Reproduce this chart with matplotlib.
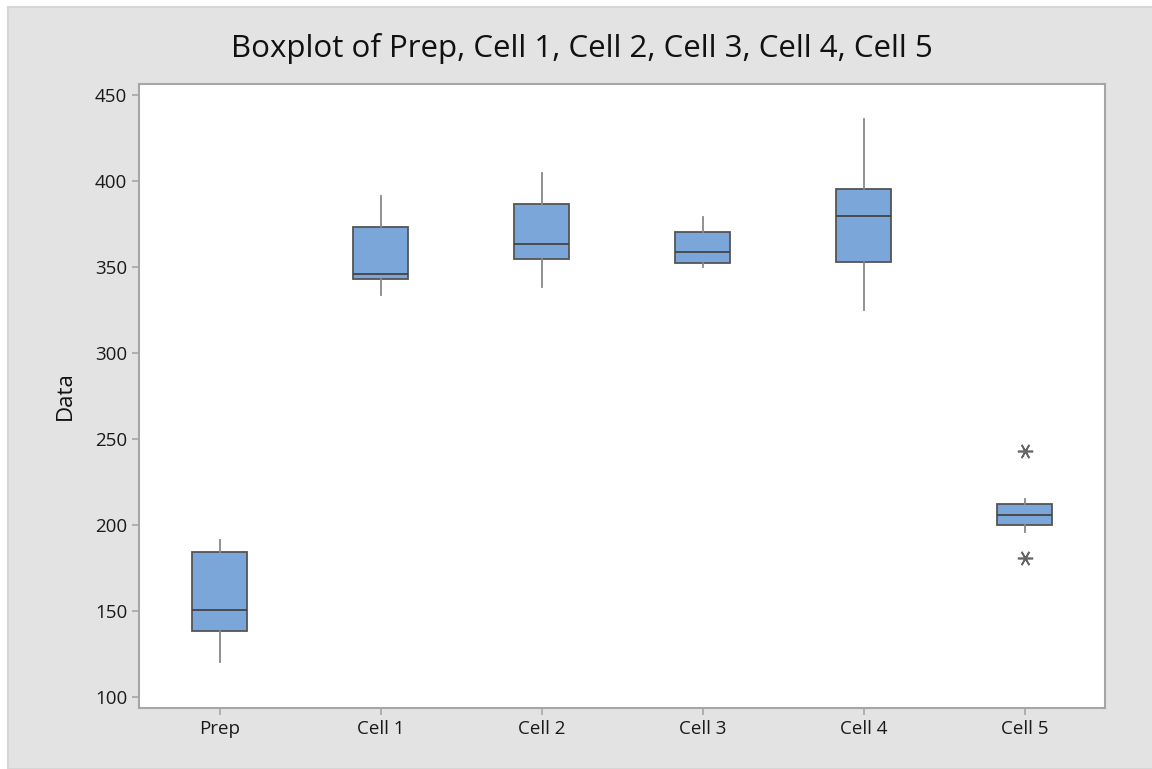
import matplotlib
matplotlib.use("Agg")
import matplotlib.pyplot as plt
from matplotlib.patches import Rectangle

plt.rcParams['font.family'] = ['Open Sans', 'DejaVu Sans']

# Summary values
labels = ['Prep', 'Cell 1', 'Cell 2', 'Cell 3', 'Cell 4', 'Cell 5']
whislo = [120.5, 333.7, 338.6, 350.2, 325.0, 196.1]
q1 = [138.6, 343.0, 354.8, 352.5, 352.7, 199.8]
med = [150.6, 345.7, 363.2, 358.5, 379.7, 205.8]
q3 = [184.5, 373.4, 386.4, 370.2, 395.2, 212.0]
whishi = [191.3, 391.3, 404.8, 379.3, 435.9, 215.1]
outliers = [[], [], [], [], [], [243.2, 181.0]]

stats = []
for i in range(len(labels)):
    stats.append(dict(label=labels[i], whislo=whislo[i], q1=q1[i], med=med[i],
                      q3=q3[i], whishi=whishi[i], fliers=outliers[i]))

fig = plt.figure(figsize=(11.52, 7.69), dpi=100, facecolor='white')
# gray chart background, with thin white strip at left and top
fig.patches.append(Rectangle((8 / 1152, 0), 1, 1 - 7 / 769, transform=fig.transFigure,
                             facecolor='#e3e3e3', edgecolor='#d6d6d6', lw=1.5, zorder=-1))

ax = fig.add_axes([139 / 1152, 1 - 708 / 769, (1105 - 139) / 1152, (708 - 84) / 769])
ax.set_facecolor('white')

ax.bxp(stats, widths=0.34, patch_artist=True, showcaps=False,
       boxprops=dict(facecolor='#7aa6da', edgecolor='#555555', linewidth=1.3),
       medianprops=dict(color='#444444', linewidth=1.3),
       whiskerprops=dict(color='#888888', linewidth=1.3),
       flierprops=dict(marker=(6, 2, 90), markersize=11, markeredgecolor='#666666',
                       markeredgewidth=1.2, linestyle='none'))

ax.set_xlim(0.5, 6.5)
ax.set_ylim(93.6, 456.4)
ax.set_yticks([100, 150, 200, 250, 300, 350, 400, 450])

for s in ax.spines.values():
    s.set_color('#a6a6a6')
    s.set_linewidth(1.5)
ax.tick_params(colors='#a6a6a6', labelcolor='#1a1a1a', labelsize=13.5, length=5, width=1.2)
for t in ax.get_xticklabels() + ax.get_yticklabels():
    t.set_fontweight('medium')

ax.set_ylabel('Data', fontsize=16, color='#111111', labelpad=14, fontweight='medium')
fig.text(0.505, 1 - 48 / 769, 'Boxplot of Prep, Cell 1, Cell 2, Cell 3, Cell 4, Cell 5',
         ha='center', va='center', fontsize=22.5, color='#111111', fontweight='medium')

fig.savefig('out.png', dpi=100, facecolor=fig.get_facecolor())
